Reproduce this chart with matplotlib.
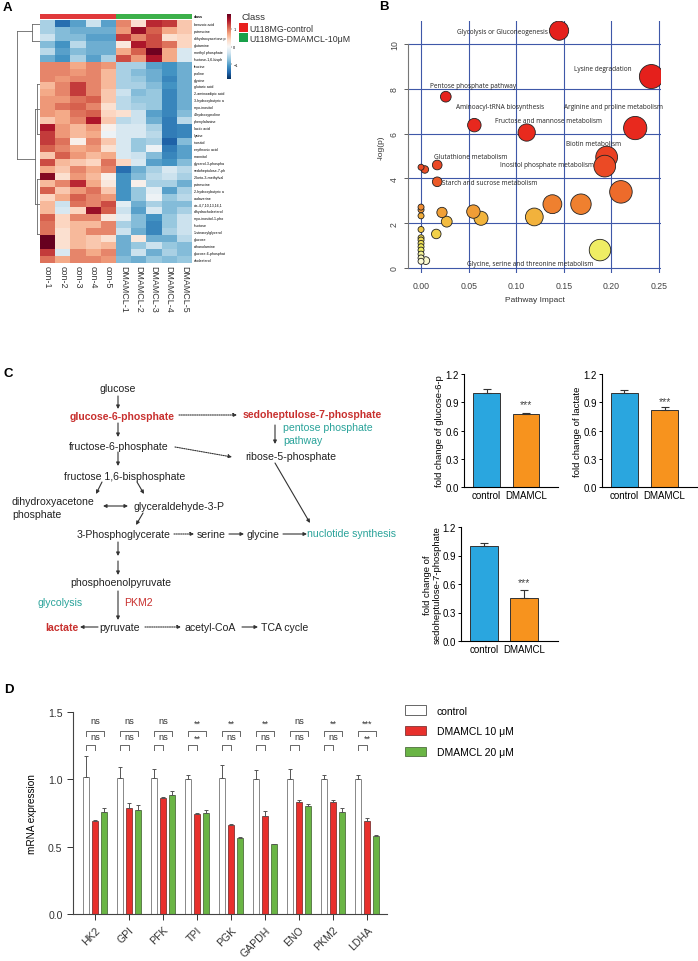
import numpy as np
import matplotlib
matplotlib.use("Agg")
import matplotlib.pyplot as plt
from matplotlib.colors import LinearSegmentedColormap, ListedColormap
from matplotlib.patches import Rectangle, Patch

plt.rcParams['font.family'] = ['Liberation Sans', 'DejaVu Sans']

W, H = 698, 962

# ---------------- panel A: heatmap data ----------------
samples = ['con-1', 'con-2', 'con-3', 'con-4', 'con-5',
           'DMAMCL-1', 'DMAMCL-2', 'DMAMCL-3', 'DMAMCL-4', 'DMAMCL-5']
sample_class = [0, 0, 0, 0, 0, 1, 1, 1, 1, 1]
class_names = ['U118MG-control', 'U118MG-DMAMCL-10\u03bcM']
metabolites = [
    'benzoic acid', 'putrescine', 'dihydroxyacetone p', 'glutamine',
    'methyl phosphate', 'fructose-1,6-bisph', 'leucine', 'proline', 'glycine',
    'glutaric acid', '2-aminoadipic acid', '3-hydroxybutyric a', 'myo-inositol',
    '4-hydroxyproline', 'phenylalanine', 'lactic acid', 'lysine', 'inositol',
    'erythronic acid', 'mannitol', 'glycerol-3-phospha', 'sedoheptulose-7-ph',
    '2-keto-3-methylval', 'putrescine', '2-hydroxybutyric a', 'cadaverine',
    'cis-4,7,10,13,16,1', 'dihydrocholesterol', 'myo-inositol-1-pho',
    'fructose', '1-stearoylglycerol', 'glucose', 'ethanolamine',
    'glucose-6-phosphat', 'cholesterol']
heat_values = [
    [-0.6, -1.4, -1.0, -0.4, -1.0, 0.9, 0.3, 1.4, 1.3, 0.5],
    [-0.6, -0.8, -0.9, -0.9, -0.9, 0.8, 1.6, 1.1, 0.7, 0.5],
    [-0.4, -0.8, -0.8, -1.0, -1.0, 1.3, 0.9, 1.2, 0.3, 0.4],
    [-0.8, -1.1, -0.5, -0.9, -0.9, 0.2, 1.5, 1.2, 1.0, 0.4],
    [-0.5, -1.0, -0.8, -0.9, -0.9, 0.7, 1.1, 1.8, 0.7, -0.3],
    [-0.9, -1.1, -0.6, -1.0, -0.6, 1.2, 0.8, 1.5, 0.7, -0.3],
    [0.9, 0.9, 0.7, 0.9, 0.8, -0.6, -0.6, -1.0, -1.1, -0.9],
    [0.9, 0.9, 0.8, 0.9, 0.6, -0.6, -0.8, -0.9, -1.1, -0.9],
    [0.9, 0.8, 0.9, 0.9, 0.6, -0.6, -0.7, -0.9, -1.2, -0.9],
    [0.6, 0.9, 1.3, 0.9, 0.6, -0.6, -0.6, -0.8, -1.1, -0.9],
    [0.7, 0.9, 1.3, 0.9, 0.5, -0.4, -0.8, -0.7, -1.2, -0.9],
    [0.8, 0.8, 1.0, 1.1, 0.5, -0.5, -0.7, -0.7, -1.2, -0.9],
    [0.8, 1.0, 1.1, 0.9, 0.3, -0.5, -0.6, -0.7, -1.2, -0.9],
    [0.8, 0.7, 1.0, 1.1, 0.4, 0.3, -0.4, -1.0, -1.2, -0.8],
    [0.5, 0.7, 0.9, 1.5, 0.5, -0.5, -0.4, -0.9, -1.3, -0.5],
    [1.5, 0.8, 0.6, 0.8, 0.1, -0.3, -0.3, -0.6, -1.3, -1.2],
    [1.3, 0.8, 0.6, 0.7, -0.1, -0.3, -0.3, -0.5, -1.3, -1.2],
    [1.3, 1.0, 0.1, 0.9, 0.5, -0.3, -0.7, -0.6, -1.5, -0.8],
    [1.1, 0.9, 0.7, 0.8, 0.3, -0.3, -0.7, -0.1, -1.3, -1.0],
    [0.5, 1.1, 0.8, 0.6, 0.7, -0.3, -0.4, -0.8, -1.2, -1.0],
    [1.2, 0.6, 0.5, 0.4, 1.0, 0.4, -0.3, -1.0, -1.1, -0.8],
    [0.7, 0.5, 0.9, 0.7, 0.9, -1.4, -0.9, -0.6, -0.3, -0.5],
    [1.7, 0.3, 0.8, 0.6, 0.1, -1.1, -0.8, -0.5, -0.4, -0.6],
    [0.6, 0.9, 1.4, 0.7, 0.2, -1.1, 0.1, -0.6, -0.6, -0.9],
    [1.1, 0.5, 0.8, 1.0, 0.5, -1.1, -0.7, -0.2, -1.0, -0.6],
    [0.4, 0.7, 1.1, 0.9, 0.8, -1.1, -0.7, -0.1, -0.7, -0.5],
    [0.6, -0.4, 1.0, 0.9, 1.2, -0.2, -0.9, -0.6, -0.8, -0.8],
    [0.6, -0.3, 0.4, 1.6, 1.1, -0.4, -1.0, -0.3, -0.8, -0.6],
    [1.1, 0.4, 0.9, 0.9, 0.2, -0.2, -0.8, -1.1, -0.7, -0.4],
    [1.0, 0.4, 0.6, 0.6, 0.9, -0.6, -0.8, -1.2, -0.7, -0.4],
    [1.0, 0.3, 0.6, 0.9, 0.9, -0.4, -0.9, -1.2, -0.6, -0.4],
    [1.9, 0.3, 0.6, 0.5, 0.3, -0.9, 0.2, -0.9, -0.9, -0.5],
    [1.9, 0.3, 0.6, 0.5, 0.6, -0.9, -0.7, -0.4, -0.7, -0.8],
    [1.3, -0.3, 0.9, 0.7, 0.9, -0.9, -0.4, -0.9, -0.6, -0.8],
    [1.0, 0.7, 0.9, 0.9, 0.8, -0.8, -0.9, -0.7, -0.8, -0.7]]

# ---------------- panel B: pathway analysis ----------------
pathway_impact = [0.145, 0.242, 0.026, 0.056, 0.111, 0.225, 0.195, 0.193,
                  0.017, 0.017, 0.188,
                  0.0, 0.004, 0.21, 0.138, 0.168, 0.055, 0.022, 0.063, 0.027,
                  0.119, 0.0, 0.0, 0.0, 0.0, 0.016, 0.0, 0.0, 0.0, 0.0, 0.0,
                  0.0, 0.0, 0.0, 0.005]
pathway_neglogp = [10.6, 8.55, 7.65, 6.38, 6.05, 6.25, 4.95, 4.55,
                   4.6, 3.85, 0.8,
                   4.5, 4.4, 3.4, 2.85, 2.85, 2.52, 2.48, 2.22, 2.07,
                   2.28, 2.72, 2.6, 2.33, 1.72, 1.52, 1.35, 1.25, 1.1, 0.95,
                   0.8, 0.62, 0.45, 0.3, 0.33]
pathway_names = ['Glycolysis or Gluconeogenesis', 'Lysine degradation',
                 'Pentose phosphate pathway', 'Aminoacyl-tRNA biosynthesis',
                 'Fructose and mannose metabolism',
                 'Arginine and proline metabolism', 'Biotin metabolism',
                 'Inositol phosphate metabolism', 'Glutathione metabolism',
                 'Starch and sucrose metabolism',
                 'Glycine, serine and threonine metabolism']

# ---------------- panel C: metabolite bars ----------------
metab_groups = ['control', 'DMAMCL']
g6p_mean = [1.0, 0.775]
g6p_err = [0.04, 0.015]
lactate_mean = [1.0, 0.815]
lactate_err = [0.025, 0.035]
s7p_mean = [1.0, 0.45]
s7p_err = [0.03, 0.09]

# ---------------- panel D: mRNA expression ----------------
genes = ['HK2', 'GPI', 'PFK', 'TPI', 'PGK', 'GAPDH', 'ENO', 'PKM2', 'LDHA']
ctrl_mean = [1.02, 1.01, 1.01, 1.005, 1.01, 1.0, 1.0, 1.0, 1.0]
ctrl_err = [0.15, 0.08, 0.07, 0.03, 0.10, 0.07, 0.08, 0.03, 0.03]
dm10_mean = [0.69, 0.787, 0.86, 0.743, 0.66, 0.725, 0.834, 0.829, 0.69]
dm10_err = [0.005, 0.035, 0.01, 0.01, 0.01, 0.037, 0.015, 0.02, 0.025]
dm20_mean = [0.76, 0.775, 0.886, 0.752, 0.565, 0.517, 0.80, 0.76, 0.58]
dm20_err = [0.025, 0.035, 0.03, 0.018, 0.007, 0.005, 0.02, 0.03, 0.007]
sig_vs20 = ['ns', 'ns', 'ns', '**', '**', '**', 'ns', '**', '***']
sig_vs10 = ['ns', 'ns', 'ns', '**', 'ns', 'ns', 'ns', 'ns', '**']


def px_axes(x0, y0, x1, y1):
    return fig.add_axes([x0 / W, 1 - y1 / H, (x1 - x0) / W, (y1 - y0) / H])


fig = plt.figure(figsize=(W / 100, H / 100), dpi=100)

# ======== A ========
ax_cls = px_axes(40, 15, 192, 19.5)
ax_cls.imshow([sample_class], cmap=ListedColormap(['#e0393b', '#3cb04a']),
              aspect='auto', interpolation='nearest')
ax_cls.axis('off')

ax_hm = px_axes(40, 21, 192, 264)
im = ax_hm.imshow(np.array(heat_values), cmap='RdBu_r', vmin=-1.85, vmax=1.85,
                  aspect='auto', interpolation='nearest')
ax_hm.set_yticks(range(len(metabolites)))
ax_hm.set_yticklabels(metabolites, fontsize=2.6)
ax_hm.yaxis.tick_right()
ax_hm.set_xticks(range(len(samples)))
ax_hm.set_xticklabels(samples, rotation=-90, fontsize=6.4, color='#333333')
ax_hm.tick_params(length=0, pad=1.5)
for s in ax_hm.spines.values():
    s.set_visible(False)

# dendrogram (row clustering)
ax_dd = px_axes(12, 21, 40, 264)
ax_dd.set_xlim(12, 40)
ax_dd.set_ylim(264, 21)
ax_dd.axis('off')
dcol = '#666666'
tree = [((17, 17), (32, 160)), ((17, 32), (32, 32)), ((32, 32), (25, 42)),
        ((32, 40), (25, 25)), ((32, 40), (42, 42)), ((17, 35), (160, 160)),
        ((35, 35), (110, 205)), ((35, 40), (110, 110)), ((35, 40), (205, 205)),
        ((37, 37), (85, 135)), ((37, 40), (85, 85)), ((37, 40), (135, 135)),
        ((36.5, 36.5), (180, 235)), ((36.5, 40), (180, 180)), ((36.5, 40), (235, 235))]
for xs, ys in tree:
    ax_dd.plot(xs, ys, color=dcol, lw=0.6)

cax = px_axes(227, 15, 230.5, 80)
cb = fig.colorbar(im, cax=cax, ticks=[-2, -1, 0, 1, 2])
cb.ax.tick_params(labelsize=2.8, length=1, width=0.3, pad=1)
cb.outline.set_visible(False)

# ======== B ========
ax_b = px_axes(408, 22, 661, 274)
ax_b.set_xlim(-0.0137, 0.2521)
ax_b.set_ylim(-0.223, 11.03)
heat = LinearSegmentedColormap.from_list('heat', [
    (0.0, '#ffffff'), (0.06, '#f9f7b8'), (0.1, '#eeec60'), (0.19, '#f2d048'),
    (0.28, '#f2b43c'), (0.36, '#ef7e2e'), (0.48, '#ec5a28'), (0.6, '#ea4424'),
    (0.75, '#e82a1e'), (1.0, '#e5201c')])
imp = np.array(pathway_impact)
nlp = np.array(pathway_neglogp)
radius = 3 + 9 * (imp / imp.max()) ** 0.6
sizes = (2 * radius * 0.72) ** 2
order = np.argsort(-sizes)
ax_b.scatter(imp[order], nlp[order], s=sizes[order],
             c=heat(np.clip(nlp[order] / 8.0, 0, 1)),
             edgecolors='#222222', linewidths=0.6, zorder=3)
for v in [0, 0.05, 0.10, 0.15, 0.20, 0.25]:
    ax_b.axvline(v, color='#3f58a8', lw=0.8, zorder=1)
for v in [0, 2, 4, 6, 8, 10]:
    ax_b.axhline(v, color='#3f58a8', lw=0.8, zorder=1)
label_pos = [(0.085, 10.58), (0.191, 8.93), (0.055, 8.17), (0.083, 7.19),
             (0.134, 6.6), (0.202, 7.19), (0.181, 5.55), (0.132, 4.6),
             (0.052, 5.0), (0.072, 3.84), (0.115, 0.22)]
for name, (lx, ly) in zip(pathway_names, label_pos):
    ax_b.text(lx, ly, name, fontsize=4.7, ha='center', va='center',
              color='#222222', family=['Open Sans', 'DejaVu Sans'], zorder=4)
ax_b.set_xticks([0, 0.05, 0.10, 0.15, 0.20, 0.25])
ax_b.set_xticklabels(['0.00', '0.05', '0.10', '0.15', '0.20', '0.25'])
ax_b.set_yticks([0, 2, 4, 6, 8, 10])
ax_b.set_yticklabels(['0', '2', '4', '6', '8', '10'], rotation=90, va='center')
ax_b.tick_params(labelsize=6.3, colors='#444444', length=3, width=0.6)
ax_b.tick_params(axis='x', length=0, pad=6)
for k in ['top', 'right', 'bottom']:
    ax_b.spines[k].set_visible(False)
ax_b.spines['left'].set_bounds(0, 10)
ax_b.spines['left'].set_color('#777777')
ax_b.set_xlabel('Pathway Impact', fontsize=6, color='#333333', labelpad=4)
ax_b.set_ylabel('-log(p)', fontsize=6, color='#333333', labelpad=4)


# ======== C bars ========
def metab_bar(ax, means, errs, ylabel, star_y, xr):
    ax.bar([0, 1], means, width=0.68, color=['#2aa6df', '#f7931e'],
           edgecolor='#333333', linewidth=0.7)
    ax.errorbar([0, 1], means, yerr=[[0, 0], errs], fmt='none',
                ecolor='#333333', elinewidth=0.8, capsize=3, capthick=0.8)
    ax.text(1, star_y, '***', ha='center', va='center', fontsize=7.5,
            color='#444444')
    ax.set_ylim(0, 1.2)
    ax.set_xlim(*xr)
    ax.set_yticks([0, 0.3, 0.6, 0.9, 1.2])
    ax.set_yticklabels(['0.0', '0.3', '0.6', '0.9', '1.2'])
    ax.set_xticks([0, 1])
    ax.set_xticklabels(metab_groups)
    ax.tick_params(labelsize=7, length=2.5, width=0.7, pad=1)
    ax.tick_params(axis='x', length=0, pad=2)
    for k in ['top', 'right']:
        ax.spines[k].set_visible(False)
    for k in ['left', 'bottom']:
        ax.spines[k].set_linewidth(0.8)
    ax.set_ylabel(ylabel, fontsize=6.8, labelpad=1, linespacing=1.0)


ax_c1 = px_axes(464, 375, 558, 488)
metab_bar(ax_c1, g6p_mean, g6p_err, 'fold change of glucose-6-p', 0.88,
          (-0.57, 1.81))
ax_c2 = px_axes(602, 375, 697, 488)
metab_bar(ax_c2, lactate_mean, lactate_err, 'fold change of lactate', 0.91,
          (-0.56, 1.81))
ax_c3 = px_axes(461, 528, 558, 642)
metab_bar(ax_c3, s7p_mean, s7p_err, 'fold change of\nsedoheptulose-7-phosphate',
          0.62, (-0.575, 1.85))

# ======== D ========
ax_d = px_axes(73, 713, 387, 915)
x = np.arange(len(genes))
off, bw = 0.27, 0.18
ax_d.bar(x - off, ctrl_mean, width=bw, color='white', edgecolor='#888888', lw=0.7)
ax_d.bar(x, dm10_mean, width=bw, color='#e8302c', edgecolor='#6a2020', lw=0.5)
ax_d.bar(x + off, dm20_mean, width=bw, color='#6ab545', edgecolor='#3a5a2a', lw=0.5)
for xs, m, e in [(x - off, ctrl_mean, ctrl_err), (x, dm10_mean, dm10_err),
                 (x + off, dm20_mean, dm20_err)]:
    ax_d.errorbar(xs, m, yerr=[np.zeros(len(m)), e], fmt='none',
                  ecolor='#555555', elinewidth=0.7, capsize=1.6, capthick=0.7)
bcol = '#666666'
for i in range(len(genes)):
    ax_d.plot([i - off, i - off, i + off, i + off], [1.325, 1.36, 1.36, 1.325],
              color=bcol, lw=0.7)
    ax_d.plot([i - off, i - off, i, i], [1.215, 1.258, 1.258, 1.215],
              color=bcol, lw=0.7)
    ax_d.text(i, 1.40 if sig_vs20[i] == 'ns' else 1.385, sig_vs20[i],
              ha='center', va='bottom', fontsize=6.7, color='#333333')
    ax_d.text(i, 1.285 if sig_vs10[i] == 'ns' else 1.275, sig_vs10[i],
              ha='center', va='bottom', fontsize=6.7, color='#333333')
ax_d.set_xlim(-0.647, 8.59)
ax_d.set_ylim(0, 1.5)
ax_d.set_yticks([0, 0.5, 1.0, 1.5])
ax_d.set_yticklabels(['0.0', '0.5', '1.0', '1.5'])
ax_d.set_xticks(x)
ax_d.set_xticklabels(genes, rotation=45, ha='right', rotation_mode='anchor')
ax_d.tick_params(labelsize=7.6, length=4, width=0.7, colors='#333333')
for k in ['top', 'right']:
    ax_d.spines[k].set_visible(False)
for k in ['left', 'bottom']:
    ax_d.spines[k].set_color('#444444')
    ax_d.spines[k].set_linewidth(0.8)
ax_d.set_ylabel('mRNA expression', fontsize=7.2, labelpad=8)
ax_d.legend(handles=[Patch(facecolor='white', edgecolor='#666666', lw=0.7, label='control'),
                     Patch(facecolor='#e8302c', edgecolor='#6a2020', lw=0.5, label='DMAMCL 10 \u03bcM'),
                     Patch(facecolor='#6ab545', edgecolor='#3a5a2a', lw=0.5, label='DMAMCL 20 \u03bcM')],
            loc='upper left', bbox_to_anchor=(396 / W, 1 - 697 / H),
            bbox_transform=fig.transFigure, frameon=False, fontsize=7.5,
            handlelength=2.0, handleheight=1.0, handletextpad=1.0,
            labelspacing=1.0)

# ======== overlay: letters, legend A, pathway diagram ========
ov = fig.add_axes([0, 0, 1, 1])
ov.set_xlim(0, W)
ov.set_ylim(H, 0)
ov.axis('off')
ov.patch.set_alpha(0)

for lab, lx, ly in [('A', 3, 8), ('B', 379, 7), ('C', 4, 374), ('D', 4, 690)]:
    ov.text(lx, ly, lab, fontsize=9.5, fontweight='bold', ha='left', va='center')

ov.text(194, 17.5, 'class', fontsize=2.6, fontweight='bold', va='center')
ov.text(242, 18, 'Class', fontsize=6.8, va='center', color='#333333')
ov.add_patch(Rectangle((239, 24), 9, 9, facecolor='#e8201e', edgecolor='none'))
ov.add_patch(Rectangle((239, 34), 9, 9, facecolor='#18a04a', edgecolor='none'))
ov.text(249, 29, class_names[0], fontsize=6.3, va='center', color='#333333')
ov.text(249, 39, class_names[1], fontsize=6.3, va='center', color='#333333')

RED = '#c8302e'
TEAL = '#2aa39a'
TXT = '#222222'
FS = 7.6


def t(xc, yc, s, ha='center', color=TXT, bold=False):
    ov.text(xc, yc, s, ha=ha, va='center', fontsize=FS, color=color,
            fontweight='bold' if bold else 'normal')


def arr(x0, y0, x1, y1, style='-|>', dotted=False):
    ov.annotate('', xy=(x1, y1), xytext=(x0, y0),
                arrowprops=dict(arrowstyle=style, lw=0.8, color='#333333',
                                linestyle=(0, (1, 1)) if dotted else '-',
                                shrinkA=0, shrinkB=0, mutation_scale=5))


t(118, 389, 'glucose')
arr(118, 397, 118, 410)
t(122, 417, 'glucose-6-phosphate', color=RED, bold=True)
arr(179, 416, 237, 416, dotted=True)
t(312, 415, 'sedoheptulose-7-phosphate', color=RED, bold=True)
arr(275, 426, 275, 445)
t(283, 428, 'pentose phosphate', ha='left', color=TEAL)
t(283, 441, 'pathway', ha='left', color=TEAL)
t(291, 457, 'ribose-5-phosphate')
arr(118, 424, 118, 438)
t(119, 447, 'fructose-6-phosphate')
arr(175, 448, 232, 458, dotted=True)
arr(118, 453, 118, 467)
t(125, 477, 'fructose 1,6-bisphosphate')
arr(102, 483, 96, 495)
arr(137, 483, 144, 495)
t(12, 502, 'dihydroxyacetone', ha='left')
t(12, 515, 'phosphate', ha='left')
arr(103, 507, 128, 507, style='<|-|>')
t(179, 507, 'glyceraldehyde-3-P')
arr(143, 514, 136, 526)
t(124, 535, '3-Phosphoglycerate')
arr(174, 535, 194, 535, dotted=True)
t(211, 535, 'serine')
arr(229, 535, 244, 535)
t(263, 535, 'glycine')
arr(283, 535, 307, 535)
t(307, 534, 'nuclotide synthesis', ha='left', color=TEAL)
arr(275, 464, 310, 524)
arr(118, 543, 118, 557)
arr(118, 562, 118, 576)
t(121, 583, 'phosphoenolpyruvate')
t(38, 603, 'glycolysis', ha='left', color=TEAL)
t(124, 603, 'PKM2', ha='left', color=RED)
arr(118, 592, 118, 621)
t(61.5, 628, 'lactate', color=RED, bold=True)
arr(98, 628, 80, 628)
t(120, 628, 'pyruvate')
arr(145, 628, 181, 628, dotted=True)
t(210, 628, 'acetyl-CoA')
arr(242, 628, 258, 628)
t(285, 628, 'TCA cycle')

fig.savefig('out.png', dpi=100)
